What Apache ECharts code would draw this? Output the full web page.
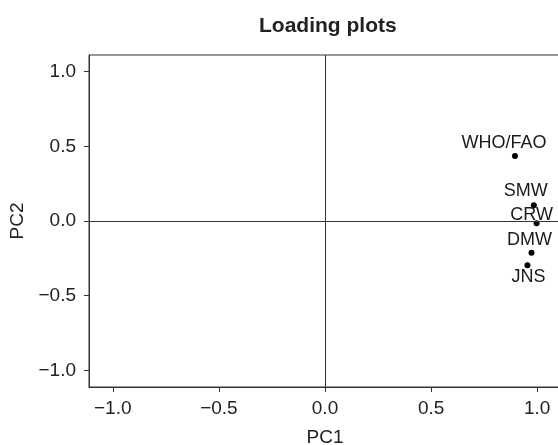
<!DOCTYPE html>
<html>
<head>
<meta charset="utf-8">
<script src="https://cdn.jsdelivr.net/npm/echarts@6/dist/echarts.min.js"></script>
<style>html,body{margin:0;padding:0;background:#fff}#c{width:558px;height:445px}</style>
</head>
<body>
<div id="c"></div>
<script>
const names = ["WHO/FAO", "SMW", "CRW", "DMW", "JNS"];
const pc1 = [0.895, 0.984, 0.997, 0.973, 0.954];
const pc2 = [0.436, 0.105, -0.015, -0.213, -0.297];
const tickValues = [-1.0, -0.5, 0.0, 0.5, 1.0];
const tickLabels = ["\u22121.0", "\u22120.5", "0.0", "0.5", "1.0"];
const labelOffsets = [[-11, -13], [-8, -14], [-5, -8], [-2, -13], [1, 12]];

const FONT = '"Liberation Sans", Arial, sans-serif';
const AX = '#333';

function fmt(v) {
  const i = tickValues.findIndex(t => Math.abs(t - v) < 1e-9);
  return i >= 0 ? tickLabels[i] : '';
}

const data = names.map((n, i) => ({
  name: n,
  value: [pc1[i], pc2[i]],
  label: { offset: labelOffsets[i] }
}));

function axis(name, isY) {
  return {
    type: 'value',
    min: -1.112, max: 1.112,
    name: name,
    nameLocation: 'middle',
    nameGap: isY ? 56 : 41,
    nameTextStyle: { fontFamily: FONT, fontSize: 19, color: '#222' },
    axisLine: { show: true, onZero: false, lineStyle: { color: AX, width: 1 } },
    axisTick: { show: true, inside: false, length: 5, lineStyle: { color: AX, width: 1 }, customValues: tickValues },
    axisLabel: { fontFamily: FONT, fontSize: 19, color: '#222', margin: isY ? 13 : 12, customValues: tickValues, formatter: fmt },
    splitLine: { show: false }
  };
}

const chart = echarts.init(document.getElementById('c'), null, { renderer: 'canvas' });
chart.setOption({
  animation: false,
  backgroundColor: '#fff',
  title: {
    text: 'Loading plots',
    left: 254, top: 11,
    textStyle: { fontFamily: FONT, fontSize: 21, fontWeight: 'bold', color: '#222' }
  },
  grid: {
    left: 89, top: 55, width: 472, height: 332,
    show: true, borderColor: AX, borderWidth: 1, backgroundColor: 'transparent',
    outerBoundsMode: 'none', containLabel: false
  },
  xAxis: axis('PC1', false),
  yAxis: axis('PC2', true),
  series: [{
    type: 'scatter',
    symbolSize: 6,
    itemStyle: { color: '#000', opacity: 1 },
    label: {
      show: true, position: 'inside',
      formatter: p => p.name,
      fontFamily: FONT, fontSize: 18, color: '#1a1a1a', opacity: 1,
      textBorderWidth: 0, textBorderColor: 'transparent'
    },
    data: data,
    markLine: {
      silent: true, symbol: 'none', animation: false,
      label: { show: false },
      lineStyle: { color: AX, width: 1, type: 'solid', opacity: 1 },
      data: [{ xAxis: 0 }, { yAxis: 0 }]
    },
    z: 3
  }]
});
</script>
</body>
</html>
